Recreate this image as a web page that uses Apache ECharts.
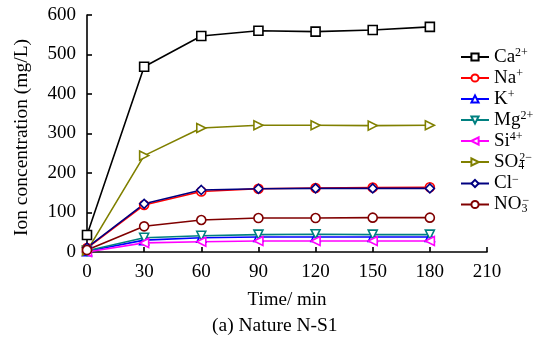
<!DOCTYPE html>
<html><head><meta charset="utf-8">
<script src="https://cdn.jsdelivr.net/npm/echarts@6/dist/echarts.min.js"></script>
<style>html,body{margin:0;padding:0;background:#fff}#c{width:539px;height:341px}</style>
</head><body><div id="c"></div>
<script>
const times = [0, 30, 60, 90, 120, 150, 180];
const xTicks = [0, 30, 60, 90, 120, 150, 180, 210];
const yTicks = [0, 100, 200, 300, 400, 500, 600];
const ca = [43, 469, 547, 560, 558, 562, 570];
const na = [10, 119, 153, 160, 162, 163, 164];
const k = [2, 30, 36, 38, 38, 38, 38];
const mg = [3, 36, 41, 44, 45, 44, 44];
const si = [0, 23, 26, 28, 28, 28, 28];
const so4 = [3, 244, 314, 321, 321, 320, 321];
const cl = [11, 122, 157, 160, 161, 161, 161];
const no3 = [5, 65, 81, 86, 86, 87, 87];
const names = ['Ca2+', 'Na+', 'K+', 'Mg2+', 'Si4+', 'SO42-', 'Cl-', 'NO3-'];
const labels = {
  'Ca2+': 'Ca{sup|2+}', 'Na+': 'Na{sup|+}', 'K+': 'K{sup|+}', 'Mg2+': 'Mg{sup|2+}',
  'Si4+': 'Si{sup|4+}', 'SO42-': 'SO{sub0|4}{sup|2\u2212}', 'Cl-': 'Cl{sup|\u2212}', 'NO3-': 'NO{sub0|3}{sup|\u2212}'
};
const font = 'Liberation Serif';
const fs = 19;
const mk = (name, data, color, symbol, rot) => ({
  name, type: 'line', data: times.map((t, i) => [t, data[i]]),
  symbol, symbolSize: 9, symbolRotate: rot || 0, showAllSymbol: true,
  lineStyle: { color, width: 1.6 }, itemStyle: { color: '#fff', borderColor: color, borderWidth: 1.6 },
  emphasis: { disabled: true }, z: 3
});
const chart = echarts.init(document.getElementById('c'));
chart.setOption({
  animation: false,
  grid: { left: 87, right: 52, top: 15, bottom: 89 },
  xAxis: {
    type: 'value', min: 0, max: 210, interval: 30,
    name: 'Time/ min', nameLocation: 'middle', nameGap: 39,
    nameTextStyle: { fontFamily: font, fontSize: fs, color: '#000' },
    axisLine: { lineStyle: { color: '#000', width: 1.6 } },
    axisTick: { inside: true, length: 5, lineStyle: { color: '#000', width: 1.6 } },
    axisLabel: { fontFamily: font, fontSize: fs, color: '#000', margin: 11 },
    splitLine: { show: false }
  },
  yAxis: {
    type: 'value', min: 0, max: 600, interval: 100,
    name: 'Ion concentration (mg/L)', nameLocation: 'middle', nameGap: 55,
    nameTextStyle: { fontFamily: font, fontSize: 19.5, color: '#000', padding: [0, 8, 0, 0] },
    axisLine: { show: true, lineStyle: { color: '#000', width: 1.6 } },
    axisTick: { show: true, inside: true, length: 5, lineStyle: { color: '#000', width: 1.6 } },
    axisLabel: { fontFamily: font, fontSize: fs, color: '#000', margin: 11 },
    splitLine: { show: false }
  },
  legend: {
    orient: 'vertical', left: 455, top: 42, itemWidth: 28, itemHeight: 9, itemGap: 1.5,
    data: names,
    formatter: n => labels[n],
    textStyle: {
      fontFamily: font, fontSize: fs, color: '#000', lineHeight: 19,
      rich: {
        sup: { fontFamily: font, fontSize: 12, color: '#000', padding: [0, 0, 8, 0] },
        sub0: { fontFamily: font, fontSize: 12, color: '#000', padding: [8, 0, 0, 0], width: 1 }
      }
    }
  },
  series: [
    mk('Ca2+', ca, '#000000', 'rect'),
    mk('Na+', na, '#ff0000', 'circle'),
    mk('K+', k, '#0000ff', 'triangle'),
    mk('Mg2+', mg, '#008080', 'triangle', 180),
    mk('Si4+', si, '#ff00ff', 'triangle', 90),
    mk('SO42-', so4, '#808000', 'triangle', -90),
    mk('Cl-', cl, '#000080', 'diamond'),
    mk('NO3-', no3, '#800000', 'circle')
  ],
  graphic: [{
    type: 'text', left: 212, top: 316,
    style: { text: '(a) Nature N-S1', font: '19.5px "Liberation Serif"', fill: '#000' }
  }]
});
</script></body></html>
